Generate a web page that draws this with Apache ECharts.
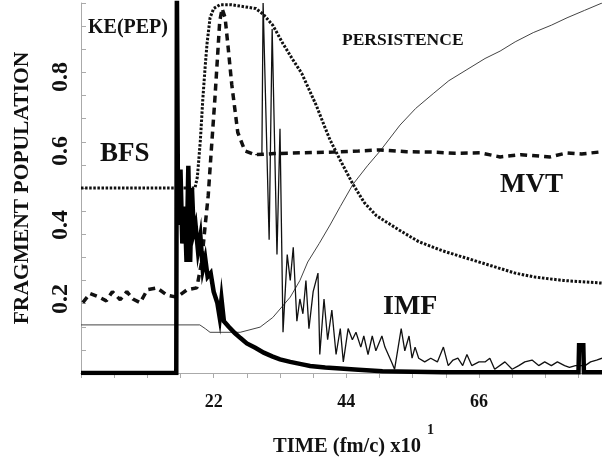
<!DOCTYPE html>
<html>
<head>
<meta charset="utf-8">
<script src="https://cdn.jsdelivr.net/npm/echarts@6/dist/echarts.min.js"></script>
<style>
  html, body { margin: 0; padding: 0; background: #fff; }
  #chart { width: 602px; height: 463px; }
</style>
</head>
<body>
<div id="chart"></div>
<script>
// tick labels
const xTickLabels = [22, 44, 66]
const yTickLabels = [0.2, 0.4, 0.6, 0.8]

// BFS (dotted)
const bfsData = [
  [0, 0.5], [15, 0.5], [18.9, 0.5], [19.3, 0.53], [19.8, 0.63], [20.2, 0.74], [20.6, 0.83],
  [20.9, 0.89], [21.4, 0.96], [22, 0.985], [23, 0.995], [25, 0.995], [27, 0.99], [29, 0.985],
  [30.2, 0.97], [31.8, 0.94], [33.5, 0.89], [35, 0.85], [36.6, 0.81], [38, 0.76], [39.1, 0.72],
  [40.3, 0.67], [41.3, 0.63], [43, 0.575], [45.1, 0.51], [47, 0.46], [49, 0.425], [52.9, 0.385],
  [56, 0.355], [60, 0.33], [64, 0.31], [68, 0.29], [72, 0.27], [75, 0.26], [80, 0.25], [86.4, 0.243]
]

// MVT (dashed)
const mvtData = [
  [0.3, 0.19], [1.5, 0.215], [3.0, 0.205], [4.2, 0.195], [5.2, 0.22], [6.5, 0.198], [7.6, 0.22],
  [8.6, 0.2], [9.8, 0.19], [11.0, 0.225], [12.6, 0.23], [14.3, 0.21], [15.9, 0.205], [17.6, 0.225],
  [19.2, 0.23], [20.0, 0.3], [20.6, 0.4], [21.1, 0.48], [21.6, 0.6], [22.2, 0.74], [22.7, 0.87],
  [23.0, 0.95], [23.4, 0.985], [23.9, 0.96], [24.4, 0.88], [25.0, 0.78], [26.0, 0.65], [27.2, 0.6],
  [28.9, 0.59], [32, 0.593], [36.3, 0.595], [41.8, 0.597], [46, 0.6], [49.6, 0.603], [54, 0.598],
  [58.4, 0.597], [62, 0.594], [66.2, 0.595], [69.5, 0.584], [73, 0.59], [77.8, 0.584], [80.6, 0.595],
  [83, 0.592], [86.4, 0.598]
]

// PERSISTENCE (thin solid)
const persistenceData = [
  [0, 0.13], [19.7, 0.13], [20.6, 0.12], [21.4, 0.11], [26.4, 0.11], [29.7, 0.124], [31.8, 0.15],
  [34.7, 0.205], [36.3, 0.25], [37.6, 0.3], [39.5, 0.35], [41.3, 0.4], [43, 0.45], [45.1, 0.51],
  [47.5, 0.56], [49.6, 0.6], [52.9, 0.67], [55.5, 0.715], [58.4, 0.755], [61, 0.79], [64, 0.82],
  [67, 0.85], [69.5, 0.87], [72, 0.895], [75, 0.92], [78, 0.94], [80.6, 0.96], [83.5, 0.98], [86.4, 1.0]
]

// IMF (jagged)
const imfData = [
  [28.9, 0.59], [30.0, 0.59], [30.2, 1.0], [30.5, 1.0], [31.2, 0.36], [31.7, 0.93], [32.5, 0.32],
  [33.0, 0.66], [33.5, 0.11], [34.2, 0.32], [34.7, 0.25], [35.2, 0.34], [35.8, 0.14], [36.3, 0.2],
  [36.8, 0.16], [37.3, 0.25], [37.8, 0.12], [38.5, 0.22], [39.3, 0.27], [39.6, 0.05], [40.3, 0.2],
  [40.9, 0.09], [41.6, 0.17], [42.3, 0.05], [43.0, 0.12], [43.5, 0.03], [44.3, 0.12], [45.0, 0.09],
  [45.6, 0.11], [46.4, 0.07], [46.9, 0.1], [47.6, 0.05], [48.3, 0.1], [48.9, 0.06], [49.9, 0.1],
  [50.4, 0.07], [51.5, 0.03], [52.0, 0.01], [53.1, 0.12], [53.7, 0.06], [54.4, 0.1], [54.9, 0.04],
  [55.4, 0.07], [56.0, 0.04], [57.0, 0.03], [58.0, 0.04], [59.1, 0.03], [60.1, 0.07], [60.9, 0.02],
  [61.7, 0.035], [62.5, 0.04], [63.3, 0.02], [64.0, 0.05], [64.8, 0.02], [66.0, 0.03], [67.0, 0.03],
  [67.8, 0.04], [68.6, 0.01], [70.3, 0.03], [71.5, 0.01], [72.6, 0.02], [73.6, 0.03], [74.8, 0.035],
  [75.9, 0.02], [76.9, 0.03], [78.0, 0.02], [79.0, 0.03], [80.2, 0.02], [81.0, 0.015], [82.0, 0.02],
  [83.6, 0.02], [84.5, 0.03], [85.5, 0.035], [86.4, 0.04]
]

// KE(PEP) (thick)
const keData = [
  [0, 0], [15.8, 0], [15.9, 1.05], [16.0, 1.05], [16.1, 0.4], [16.5, 0.55], [16.8, 0.35], [17.2, 0.45],
  [17.5, 0.3], [17.8, 0.56], [18.1, 0.3], [18.4, 0.5], [18.7, 0.38], [19.0, 0.4], [19.4, 0.33],
  [19.8, 0.37], [20.2, 0.28], [20.6, 0.31], [21.0, 0.26], [21.5, 0.27], [22.0, 0.22], [22.6, 0.19],
  [23.0, 0.15], [23.3, 0.2], [23.7, 0.14], [24.5, 0.125], [25.5, 0.108], [26.4, 0.095], [27.5, 0.08],
  [28.9, 0.068], [30.3, 0.055], [31.7, 0.045], [33.0, 0.037], [34.7, 0.03], [36.5, 0.024], [38.0, 0.019],
  [40.5, 0.015], [43.0, 0.012], [46.0, 0.009], [50, 0.005], [60, 0.002], [82.5, 0.002], [82.6, 0.075],
  [83.3, 0.075], [83.4, 0.002], [86.4, 0.002]
]

const serif = '"Liberation Serif", "DejaVu Serif", serif'
const tickGray = '#aaa'

const chart = echarts.init(document.getElementById('chart'))

const lineSeries = (name, data, style) => ({
  name,
  type: 'line',
  data,
  showSymbol: false,
  symbol: 'none',
  animation: false,
  silent: true,
  lineStyle: style,
  z: 3
})

const option = {
  backgroundColor: '#fff',
  animation: false,
  grid: { left: 81, right: 0, top: 3, bottom: 90, containLabel: false, outerBoundsMode: 'none' },
  xAxis: [
    {
      type: 'value', min: 0, max: 86.4, interval: 11, position: 'bottom',
      axisLine: { show: true, lineStyle: { color: tickGray, width: 1 } },
      axisTick: { show: true, inside: false, length: 5, lineStyle: { color: tickGray } },
      splitLine: { show: false },
      axisLabel: {
        margin: 20, fontFamily: serif, fontWeight: 'bold', fontSize: 18, color: '#111',
        showMaxLabel: false,
        formatter: v => xTickLabels.includes(v) ? String(v) : ''
      }
    },
    {
      type: 'value', min: 0, max: 86.4, interval: 5.5, position: 'top',
      axisLine: { show: true, lineStyle: { color: tickGray, width: 1 } },
      axisTick: { show: true, inside: true, length: 5, lineStyle: { color: tickGray } },
      splitLine: { show: false },
      axisLabel: { show: false }
    }
  ],
  yAxis: [
    {
      type: 'value', min: 0, max: 1, interval: 0.2, position: 'left',
      name: 'FRAGMENT POPULATION', nameLocation: 'middle', nameGap: 48,
      nameTextStyle: { fontFamily: serif, fontWeight: 'bold', fontSize: 21.5, color: '#111' },
      axisLine: { show: true, lineStyle: { color: tickGray, width: 1 } },
      axisTick: { show: false },
      splitLine: { show: false },
      axisLabel: {
        rotate: 90, margin: 8, fontFamily: serif, fontWeight: 'bold', fontSize: 24, color: '#111',
        formatter: v => yTickLabels.some(t => Math.abs(t - v) < 1e-6) ? v.toFixed(1) : ''
      }
    },
    {
      type: 'value', min: 0, max: 1, interval: 0.0625, position: 'left',
      axisLine: { show: false },
      axisTick: { show: true, inside: true, length: 5, lineStyle: { color: tickGray } },
      splitLine: { show: false },
      axisLabel: { show: false }
    }
  ],
  series: [
    lineSeries('PERSISTENCE', persistenceData, { color: '#444', width: 1 }),
    lineSeries('BFS', bfsData, { color: '#111', width: 3, type: [2.5, 1.6] }),
    lineSeries('MVT', mvtData, { color: '#111', width: 3.5, type: [7, 5] }),
    lineSeries('IMF', imfData, { color: '#111', width: 1.3 }),
    lineSeries('KE(PEP)', keData, { color: '#000', width: 4.5, join: 'miter' })
  ],
  graphic: [
    { type: 'text', left: 88, top: 18, style: { text: 'KE(PEP)', font: 'bold 20px ' + serif, fill: '#111' } },
    { type: 'text', left: 100, top: 141, style: { text: 'BFS', font: 'bold 27px ' + serif, fill: '#111' } },
    { type: 'text', left: 342, top: 31, style: { text: 'PERSISTENCE', font: 'bold 17.5px ' + serif, fill: '#111' } },
    { type: 'text', left: 500, top: 172, style: { text: 'MVT', font: 'bold 27px ' + serif, fill: '#111' } },
    { type: 'text', left: 383, top: 293, style: { text: 'IMF', font: 'bold 28px ' + serif, fill: '#111' } },
    { type: 'text', left: 273, top: 436, style: { text: 'TIME (fm/c) x10', font: 'bold 20.5px ' + serif, fill: '#111' } },
    { type: 'text', left: 427, top: 423, style: { text: '1', font: 'bold 14px ' + serif, fill: '#111' } }
  ]
}

chart.setOption(option)
</script>
</body>
</html>
